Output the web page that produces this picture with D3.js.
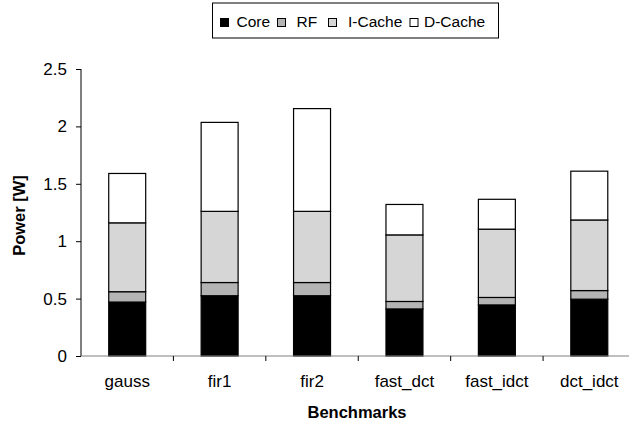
<!DOCTYPE html>
<html>
<head>
<meta charset="utf-8">
<script src="https://cdn.jsdelivr.net/npm/d3@7"></script>
<style>
  body { margin: 0; background: #fff; }
  svg { display: block; }
  svg text { font-family: 'Liberation Sans', Arial, sans-serif; }
</style>
</head>
<body>
<div id="chart"></div>
<script>
'use strict';

const benchmarks = ['gauss', 'fir1', 'fir2', 'fast_dct', 'fast_idct', 'dct_idct'];
const components = ['Core', 'RF', 'I-Cache', 'D-Cache'];
const core   = [0.47, 0.525, 0.525, 0.41, 0.445, 0.495];
const rf     = [0.09, 0.115, 0.115, 0.065, 0.065, 0.075];
const icache = [0.60, 0.62, 0.62, 0.58, 0.595, 0.615];
const dcache = [0.43, 0.775, 0.895, 0.265, 0.26, 0.425];
const yTicks = [0, 0.5, 1, 1.5, 2, 2.5];
const colors = ['#000000', '#b4b4b4', '#d6d6d6', '#ffffff'];

const width = 629, height = 423;
const margin = { top: 69, left: 81, bottom: 356 };
const font = 'Liberation Sans, Arial, sans-serif';

const rows = benchmarks.map((b, i) => ({
    name: b, 'Core': core[i], 'RF': rf[i], 'I-Cache': icache[i], 'D-Cache': dcache[i]
}));
const stacked = d3.stack().keys(components)(rows);

const svg = d3.select('#chart').append('svg')
    .attr('width', width)
    .attr('height', height)
    .attr('font-family', font);

const x = d3.scaleBand()
    .domain(benchmarks)
    .range([margin.left, 635.5])
    .paddingInner(0.6)
    .paddingOuter(0.3);
const y = d3.scaleLinear()
    .domain([0, 2.5])
    .range([margin.bottom, margin.top]);

// bars
svg.append('g')
    .selectAll('g')
    .data(stacked)
    .join('g')
    .attr('fill', (d, i) => colors[i])
    .selectAll('rect')
    .data(d => d.map((v, i) => ({ v, name: benchmarks[i] })))
    .join('rect')
    .attr('x', d => x(d.name))
    .attr('width', x.bandwidth())
    .attr('y', d => y(d.v[1]))
    .attr('height', d => y(d.v[0]) - y(d.v[1]))
    .attr('stroke', '#000')
    .attr('stroke-width', 1.2);

// y axis
const yAxis = svg.append('g')
    .attr('transform', `translate(${margin.left},0)`)
    .call(d3.axisLeft(y).tickValues(yTicks).tickFormat(d3.format('')).tickSize(5).tickPadding(9));
yAxis.attr('font-family', font).attr('font-size', 17);
yAxis.select('.domain').attr('d', `M0,${margin.top}V${margin.bottom}`).attr('stroke', '#000');
yAxis.selectAll('text').attr('fill', '#000');
yAxis.selectAll('line').attr('stroke', '#000');

// x axis with ticks between categories
const xAxis = svg.append('g')
    .attr('transform', `translate(0,${margin.bottom})`)
    .attr('font-size', 17);
xAxis.append('line')
    .attr('x1', margin.left).attr('x2', width)
    .attr('stroke', '#808080').attr('stroke-width', 1.2);
xAxis.selectAll('line.tick')
    .data(benchmarks.slice(1))
    .join('line')
    .attr('class', 'tick')
    .attr('x1', d => x(d) - x.step() * x.paddingInner() / 2)
    .attr('x2', d => x(d) - x.step() * x.paddingInner() / 2)
    .attr('y1', 0).attr('y2', 5)
    .attr('stroke', '#000');
xAxis.selectAll('text')
    .data(benchmarks)
    .join('text')
    .attr('x', d => x(d) + x.bandwidth() / 2)
    .attr('y', 31)
    .attr('text-anchor', 'middle')
    .text(d => d);

// axis titles
svg.append('text')
    .attr('x', 357)
    .attr('y', 418)
    .attr('text-anchor', 'middle')
    .attr('font-size', 16.5)
    .attr('font-weight', 'bold')
    .text('Benchmarks');
svg.append('text')
    .attr('transform', `translate(25,215.5) rotate(-90)`)
    .attr('text-anchor', 'middle')
    .attr('font-size', 16.5)
    .attr('font-weight', 'bold')
    .text('Power [W]');

// legend
const legend = svg.append('g');
legend.append('rect')
    .attr('x', 212.5).attr('y', 3)
    .attr('width', 286).attr('height', 35)
    .attr('fill', '#fff')
    .attr('stroke', '#000');
const swatchX = [220.5, 277.5, 328.5, 410];
const labelX = [236.5, 296.5, 348, 424];
legend.selectAll('rect.swatch')
    .data(components)
    .join('rect')
    .attr('class', 'swatch')
    .attr('x', (d, i) => swatchX[i]).attr('y', 18.5)
    .attr('width', 8).attr('height', 8)
    .attr('fill', (d, i) => colors[i])
    .attr('stroke', '#000');
legend.selectAll('text')
    .data(components)
    .join('text')
    .attr('x', (d, i) => labelX[i]).attr('y', 26.5)
    .attr('font-size', 15.5)
    .text(d => d);
</script>
</body>
</html>
